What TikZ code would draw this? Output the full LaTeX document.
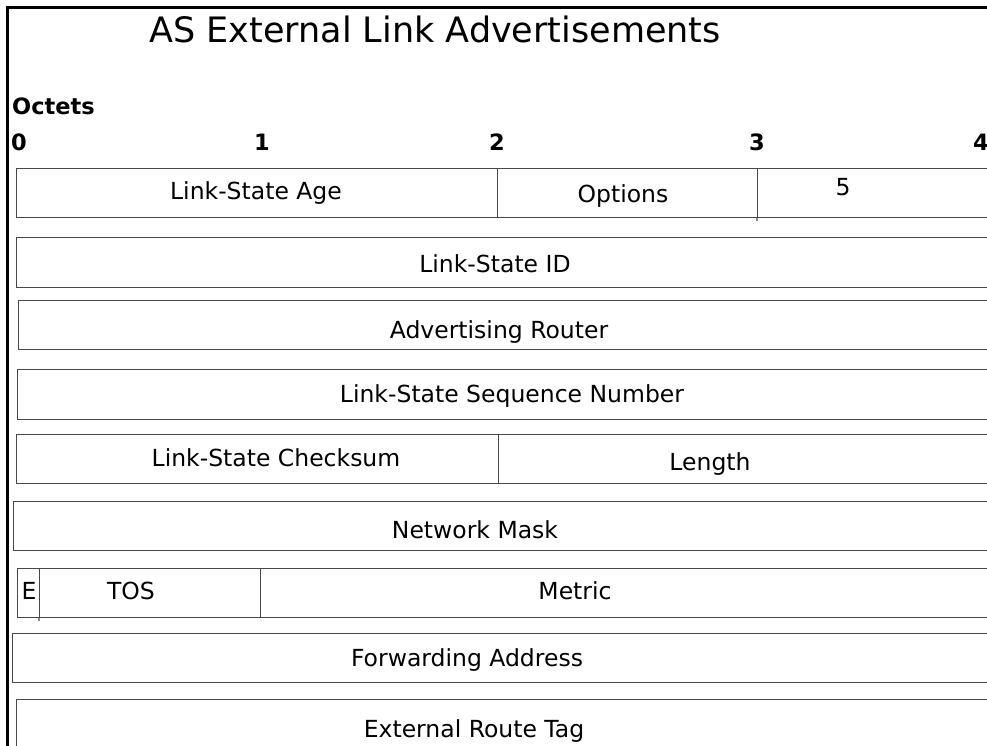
\documentclass[tikz,border=0pt]{standalone}
\usepackage{fontspec}
\setmainfont{DejaVu Sans}
\begin{document}
\begin{tikzpicture}[x=1pt,y=-1pt,
  field/.style={draw=black!72, line width=1.35pt, rectangle, inner sep=0pt, anchor=north west, minimum height=49pt},
  lbl/.style={font=\fontsize{23.5}{27}\selectfont, inner sep=0pt, anchor=base},
  oct/.style={font=\bfseries\fontsize{22.5}{26}\selectfont, inner sep=0pt, anchor=base},
  tick/.style={draw=black!45, line width=1.35pt},
  frame/.style={line width=3pt, black}]
\useasboundingbox (0,0) rectangle (987,746);
\fill[white] (0,0) rectangle (987,746);
% outer frame
\coordinate (fbl) at (7,760);
\coordinate (ftl) at (7,8);
\coordinate (ftr) at (1000,8);
\draw[frame] (fbl) -- (ftl) -- (ftr);
% title and octets
\node[inner sep=0pt, anchor=base, font=\fontsize{35}{40}\selectfont] (title) at (435,43) {AS External Link Advertisements};
\node[oct, anchor=base west] (octets) at (12,115) {Octets};
\node[oct] (o0) at (19,151) {0};
\node[oct] (o1) at (262,151) {1};
\node[oct] (o2) at (497,151) {2};
\node[oct] (o3) at (757,151) {3};
\node[oct] (o4) at (981,151) {4};
% row 1
\node[field, minimum width=481pt] (age) at (16,168) {};
\node[field, minimum width=260pt] (opt) at (497,168) {};
\node[field, minimum width=243pt] (rfive) at (757,168) {};
\draw[tick] (rfive.south west) -- ++(0,3);
\node[lbl] (tage) at (256,200) {Link-State Age};
\node[lbl] (topt) at (623,202) {Options};
\node[lbl] (tfive) at (843,195) {5};
% row 2
\node[field, minimum width=984pt, minimum height=50pt] (lsid) at (16,237) {};
\node[lbl] (tlsid) at (495,272) {Link-State ID};
% row 3
\node[field, minimum width=982pt] (adv) at (18,300) {};
\node[lbl] (tadv) at (499,338) {Advertising Router};
% row 4
\node[field, minimum width=983pt, minimum height=50pt] (seq) at (17,369) {};
\node[lbl] (tseq) at (512,402) {Link-State Sequence Number};
% row 5
\node[field, minimum width=482pt] (cks) at (16,434) {};
\node[field, minimum width=502pt] (len) at (498,434) {};
\node[lbl] (tcks) at (276,466) {Link-State Checksum};
\node[lbl] (tlen) at (710,470) {Length};
% row 6
\node[field, minimum width=987pt] (mask) at (13,501) {};
\node[lbl] (tmask) at (475,538) {Network Mask};
% row 7
\node[field, minimum width=22pt] (ebox) at (17,568) {};
\node[field, minimum width=221pt] (tos) at (39,568) {};
\node[field, minimum width=740pt] (met) at (260,568) {};
\draw[tick] (tos.south west) -- ++(0,3);
\node[lbl] (te) at (29,599) {E};
\node[lbl] (ttos) at (131,599) {TOS};
\node[lbl] (tmet) at (575,599) {Metric};
% row 8
\node[field, minimum width=988pt] (fwd) at (12,633) {};
\node[lbl] (tfwd) at (467,666) {Forwarding Address};
% row 9
\node[field, minimum width=984pt, minimum height=70pt] (tag) at (16,699) {};
\node[lbl] (ttag) at (474,737) {External Route Tag};
\end{tikzpicture}
\end{document}
